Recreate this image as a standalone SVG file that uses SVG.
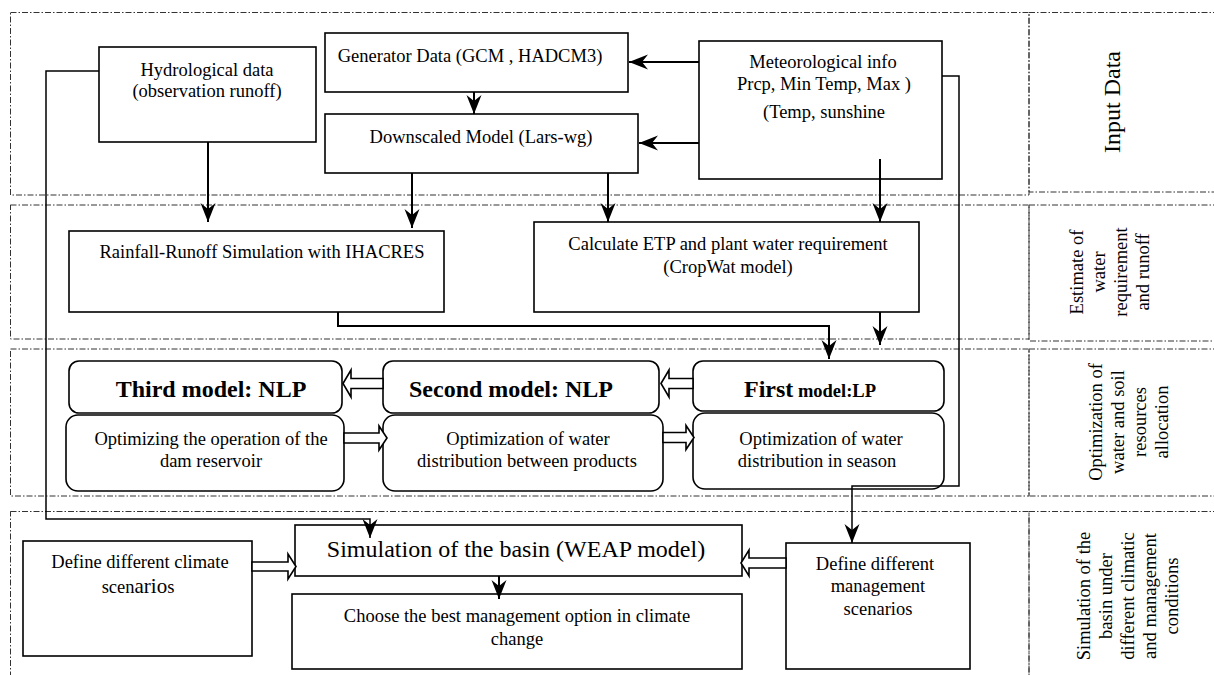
<svg xmlns="http://www.w3.org/2000/svg" width="1214" height="675" viewBox="0 0 1214 675">
<style>
.panel{fill:none;stroke:#333;stroke-width:1;stroke-dasharray:6 2 1.5 2}
.box{fill:#fff;stroke:#000;stroke-width:1.6}
.t{font-family:"Liberation Serif","Times New Roman",serif;font-size:18.5px;fill:#000;text-anchor:middle}
.big{font-family:"Liberation Serif","Times New Roman",serif;font-size:24px;fill:#000;text-anchor:middle}
.bold{font-family:"Liberation Serif","Times New Roman",serif;font-size:24px;font-weight:bold;fill:#000;text-anchor:middle}
.lbl{font-family:"Liberation Serif","Times New Roman",serif;font-size:18.5px;fill:#000;text-anchor:middle}
.c{fill:none;stroke:#000;stroke-width:2}
.c1{fill:none;stroke:#000;stroke-width:1.5}
.blk{fill:#fff;stroke:#000;stroke-width:1.6;stroke-linejoin:miter}
</style>
<defs>
<marker id="ah" markerUnits="userSpaceOnUse" markerWidth="20" markerHeight="16" viewBox="0 0 20 16" refX="19" refY="8" orient="auto">
<path d="M0,0.5 L19,8 L0,15.5 L6,8 z" fill="#000"/>
</marker>
</defs>
<rect width="1214" height="675" fill="#fff"/>

<g id="panels">
<rect class="panel" x="10.5" y="12.5" width="1018.5" height="182.5"/>
<rect class="panel" x="1029" y="12.5" width="200" height="179.5"/>
<rect class="panel" x="10.5" y="205" width="1018.5" height="134"/>
<rect class="panel" x="1029" y="205" width="200" height="136"/>
<rect class="panel" x="10.5" y="349" width="1018.5" height="147"/>
<rect class="panel" x="1029" y="349" width="200" height="147"/>
<rect class="panel" x="10.5" y="511.5" width="1018.5" height="180"/>
<rect class="panel" x="1029" y="511.5" width="200" height="180"/>
</g>

<g id="labels">
<text class="big" transform="translate(1120,102) rotate(-90)">Input Data</text>
<text class="lbl" transform="translate(1083,272) rotate(-90)">Estimate of</text>
<text class="lbl" transform="translate(1105,272) rotate(-90)">water</text>
<text class="lbl" transform="translate(1127,272) rotate(-90)">requirement</text>
<text class="lbl" transform="translate(1149,272) rotate(-90)">and runoff</text>
<text class="lbl" transform="translate(1102,422) rotate(-90)">Optimization of</text>
<text class="lbl" transform="translate(1124,422) rotate(-90)">water and soil</text>
<text class="lbl" transform="translate(1146,422) rotate(-90)">resources</text>
<text class="lbl" transform="translate(1168,422) rotate(-90)">allocation</text>
<text class="lbl" transform="translate(1090,596) rotate(-90)">Simulation of the</text>
<text class="lbl" transform="translate(1112,596) rotate(-90)">basin under</text>
<text class="lbl" transform="translate(1134,596) rotate(-90)">different climatic</text>
<text class="lbl" transform="translate(1156,596) rotate(-90)">and management</text>
<text class="lbl" transform="translate(1178,596) rotate(-90)">conditions</text>
</g>

<g id="hydro">
<rect class="box" x="99" y="47" width="217" height="95"/>
<text class="t" x="207" y="76">Hydrological data</text>
<text class="t" x="207" y="97">(observation runoff)</text>
</g>
<g id="generator">
<rect class="box" x="325" y="33" width="303" height="59"/>
<text class="t" x="470" y="62">Generator Data (GCM , HADCM3)</text>
</g>
<g id="downscaled">
<rect class="box" x="325" y="114" width="313" height="59"/>
<text class="t" x="481" y="143">Downscaled Model (Lars-wg)</text>
</g>
<g id="meteo">
<rect class="box" x="699" y="41" width="243" height="138"/>
<text class="t" x="823" y="68">Meteorological info</text>
<text class="t" x="824" y="90">Prcp, Min Temp, Max )</text>
<text class="t" x="824" y="118">(Temp, sunshine</text>
</g>
<g id="rainfall">
<rect class="box" x="69" y="231" width="375" height="81"/>
<text class="t" x="262" y="258">Rainfall-Runoff Simulation with IHACRES</text>
</g>
<g id="calculate">
<rect class="box" x="534" y="222" width="385" height="90"/>
<text class="t" x="728" y="250">Calculate ETP and plant water requirement</text>
<text class="t" x="728" y="273">(CropWat model)</text>
</g>
<g id="third">
<rect class="box" x="69" y="361" width="273" height="52" rx="10"/>
<text class="bold" x="211" y="397">Third model: NLP</text>
</g>
<g id="optimizing">
<rect class="box" x="66" y="415" width="278" height="76" rx="12"/>
<text class="t" x="211" y="445">Optimizing the operation of the</text>
<text class="t" x="211" y="467">dam reservoir</text>
</g>
<g id="second">
<rect class="box" x="383" y="361" width="276" height="52" rx="10"/>
<text class="bold" x="511" y="397">Second model: NLP</text>
</g>
<g id="products">
<rect class="box" x="383" y="415" width="280" height="76" rx="12"/>
<text class="t" x="528" y="445">Optimization of water</text>
<text class="t" x="527" y="467">distribution between products</text>
</g>
<g id="first">
<rect class="box" x="693" y="361" width="251" height="50" rx="10"/>
<text class="bold" x="810" y="397">First<tspan font-size="18.5px"> model:LP</tspan></text>
</g>
<g id="season">
<rect class="box" x="693" y="413" width="251" height="76" rx="12"/>
<text class="t" x="821" y="445">Optimization of water</text>
<text class="t" x="817" y="467">distribution in season</text>
</g>
<g id="simulation">
<rect class="box" x="295" y="525" width="447" height="51"/>
<text class="big" x="516" y="557">Simulation of the basin (WEAP model)</text>
</g>
<g id="choose">
<rect class="box" x="292" y="594" width="450" height="75"/>
<text class="t" x="517" y="622">Choose the best management option in climate</text>
<text class="t" x="517" y="645">change</text>
</g>
<g id="climate">
<rect class="box" x="23" y="541" width="229" height="115"/>
<text class="t" x="140" y="568">Define different climate</text>
<text class="t" x="138" y="593">scen<tspan font-size="21px">ario</tspan>s</text>
</g>
<g id="management">
<rect class="box" x="786" y="543" width="184" height="126"/>
<text class="t" x="875" y="570">Define different</text>
<text class="t" x="878" y="592">management</text>
<text class="t" x="878" y="615">scenarios</text>
</g>

<g id="connectors">
<line class="c" x1="699" y1="62" x2="629" y2="62" marker-end="url(#ah)"/>
<line class="c" x1="699" y1="143" x2="639" y2="143" marker-end="url(#ah)"/>
<line class="c" x1="474" y1="92" x2="474" y2="114" marker-end="url(#ah)"/>
<line class="c" x1="208" y1="142" x2="208" y2="222" marker-end="url(#ah)"/>
<line class="c" x1="412" y1="173" x2="412" y2="228" marker-end="url(#ah)"/>
<line class="c" x1="608" y1="173" x2="608" y2="222" marker-end="url(#ah)"/>
<line class="c" x1="880" y1="159" x2="880" y2="222" marker-end="url(#ah)"/>
<polyline class="c" points="338,312 338,326 829,326 829,359" marker-end="url(#ah)"/>
<line class="c" x1="880" y1="312" x2="880" y2="345" marker-end="url(#ah)"/>
<polyline class="c1" points="99,71 46,71 46,519 370,519 370,538" marker-end="url(#ah)"/>
<polyline class="c1" points="942,76 959,76 959,486 852,486 852,543" marker-end="url(#ah)"/>
<line class="c" x1="499" y1="576" x2="499" y2="599" marker-end="url(#ah)"/>
<polygon class="blk" points="661,383.5 669,370 669,378.5 693,378.5 693,388.5 669,388.5 669,397"/>
<polygon class="blk" points="343,383.5 351,370 351,378.5 383,378.5 383,388.5 351,388.5 351,397"/>
<polygon class="blk" points="387,438 379,426 379,433 344,433 344,443 379,443 379,450"/>
<polygon class="blk" points="694,437.5 686,425.5 686,432.5 663,432.5 663,442.5 686,442.5 686,449.5"/>
<polygon class="blk" points="296,566.5 288,554 288,562 252,562 252,571 288,571 288,579"/>
<polygon class="blk" points="741,563 749,550 749,558 786,558 786,568 749,568 749,576"/>
</g>
</svg>
